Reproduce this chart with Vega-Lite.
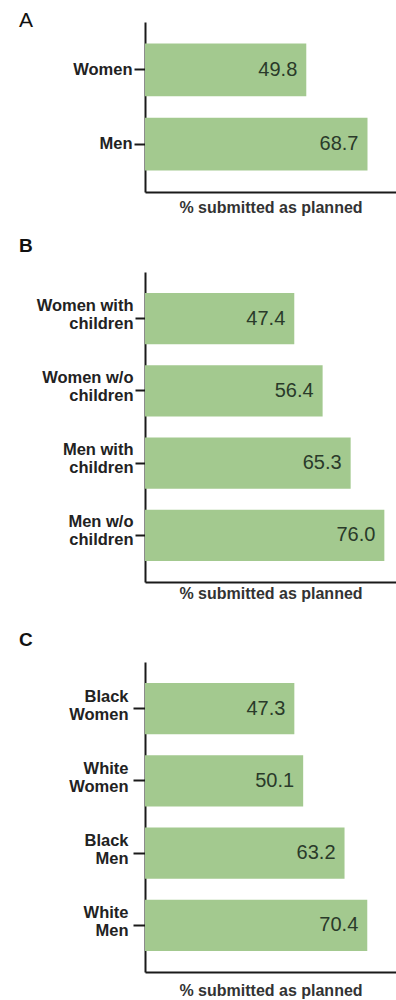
{
  "$schema": "https://vega.github.io/schema/vega-lite/v6.json",
  "padding": {"left": 19, "top": 10, "right": 0, "bottom": 5},
  "background": "white",
  "config": {
    "font": "Liberation Sans",
    "view": {"stroke": null},
    "concat": {"spacing": 80},
    "axis": {"grid": false, "domainColor": "#1a1a1a", "domainWidth": 2, "tickColor": "#1a1a1a", "tickWidth": 2},
    "title": {"anchor": "start", "frame": "group", "baseline": "alphabetic", "offset": 0, "color": "#111"}
  },
  "bounds": "flush",
  "vconcat": [
    {
      "width": 251, "height": 170,
      "title": {"text": "A", "fontSize": 21, "fontWeight": "normal", "dx": -126, "dy": 13},
      "data": {"values": [
        {"group": "Women", "pct": 49.8},
        {"group": "Men", "pct": 68.7}
      ]},
      "encoding": {
        "y": {"field": "group", "type": "nominal", "sort": null,
              "scale": {"paddingInner": 0.29, "paddingOuter": 0.29},
              "axis": {"title": null, "tickSize": 11, "labelPadding": 2, "labelFontSize": 16.5, "labelFontWeight": "bold", "labelColor": "#222", "labelLineHeight": 18, "labelExpr": "split(datum.label, '|')"}},
        "x": {"field": "pct", "type": "quantitative", "scale": {"domain": [0, 77.5]},
              "axis": {"title": "% submitted as planned", "labels": false, "ticks": false, "titleFontSize": 16, "titleFontWeight": "bold", "titleColor": "#333", "titlePadding": 7}}
      },
      "layer": [
        {"mark": {"type": "bar", "color": "#a3c98f"}},
        {"mark": {"type": "text", "align": "right", "baseline": "middle", "dx": -9, "fontSize": 20, "color": "#2a3a2a"},
         "encoding": {"text": {"field": "pct", "type": "quantitative", "format": ".1f"}}}
      ]
    },
    {
      "width": 251, "height": 310,
      "title": {"text": "B", "fontSize": 19, "fontWeight": "bold", "dx": -126, "dy": -12},
      "data": {"values": [
        {"group": "Women with|children", "pct": 47.4},
        {"group": "Women w/o|children", "pct": 56.4},
        {"group": "Men with|children", "pct": 65.3},
        {"group": "Men w/o|children", "pct": 76.0}
      ]},
      "encoding": {
        "y": {"field": "group", "type": "nominal", "sort": null,
              "scale": {"paddingInner": 0.29, "paddingOuter": 0.29},
              "axis": {"title": null, "tickSize": 10, "labelPadding": 2, "labelOffset": -13, "labelFontSize": 16.5, "labelFontWeight": "bold", "labelColor": "#222", "labelLineHeight": 18, "labelExpr": "split(datum.label, '|')"}},
        "x": {"field": "pct", "type": "quantitative", "scale": {"domain": [0, 79.7]},
              "axis": {"title": "% submitted as planned", "labels": false, "ticks": false, "titleFontSize": 16, "titleFontWeight": "bold", "titleColor": "#333", "titlePadding": 3}}
      },
      "layer": [
        {"mark": {"type": "bar", "color": "#a3c98f"}},
        {"mark": {"type": "text", "align": "right", "baseline": "middle", "dx": -9, "fontSize": 20, "color": "#2a3a2a"},
         "encoding": {"text": {"field": "pct", "type": "quantitative", "format": ".1f"}}}
      ]
    },
    {
      "width": 251, "height": 310,
      "title": {"text": "C", "fontSize": 19, "fontWeight": "bold", "dx": -126, "dy": -8},
      "data": {"values": [
        {"group": "Black|Women", "pct": 47.3},
        {"group": "White|Women", "pct": 50.1},
        {"group": "Black|Men", "pct": 63.2},
        {"group": "White|Men", "pct": 70.4}
      ]},
      "encoding": {
        "y": {"field": "group", "type": "nominal", "sort": null,
              "scale": {"paddingInner": 0.29, "paddingOuter": 0.29},
              "axis": {"title": null, "tickSize": 12, "labelPadding": 5, "labelOffset": -12, "labelFontSize": 16.5, "labelFontWeight": "bold", "labelColor": "#222", "labelLineHeight": 18, "labelExpr": "split(datum.label, '|')"}},
        "x": {"field": "pct", "type": "quantitative", "scale": {"domain": [0, 79.5]},
              "axis": {"title": "% submitted as planned", "labels": false, "ticks": false, "titleFontSize": 16, "titleFontWeight": "bold", "titleColor": "#333", "titlePadding": 10}}
      },
      "layer": [
        {"mark": {"type": "bar", "color": "#a3c98f"}},
        {"mark": {"type": "text", "align": "right", "baseline": "middle", "dx": -9, "fontSize": 20, "color": "#2a3a2a"},
         "encoding": {"text": {"field": "pct", "type": "quantitative", "format": ".1f"}}}
      ]
    }
  ]
}
